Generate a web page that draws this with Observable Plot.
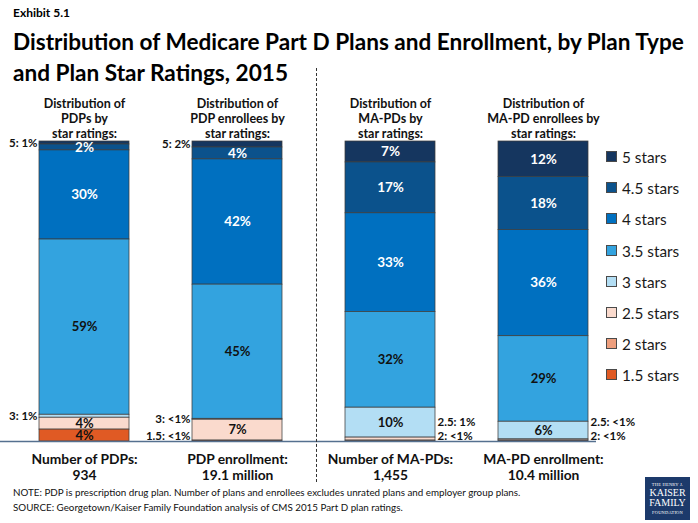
<!DOCTYPE html>
<html>
<head>
<meta charset="utf-8">
<script src="https://cdn.jsdelivr.net/npm/d3@7"></script>
<script src="https://cdn.jsdelivr.net/npm/@observablehq/plot@0.6"></script>
<style>
  html, body { margin: 0; padding: 0; background: #fff; }
  body { width: 698px; height: 523px; position: relative; overflow: hidden; font-family: Lato, "Open Sans", sans-serif; color: #000; }
  #chart { position: absolute; left: 0; top: 0; }
  .abs { position: absolute; }
  #exhibit { left: 13px; top: 5px; font-size: 12px; font-weight: bold; }
  #title { left: 13px; top: 26px; font-size: 22.6px; font-weight: bold; line-height: 31px; width: 690px; }
  #divider { left: 316px; top: 68px; height: 414px; border-left: 1px dashed #333; }
  #legend { left: 606px; top: 149px; }
  .lg { position: absolute; left: 0; white-space: nowrap; font-size: 15.3px; line-height: 16px; color: #1a1a1a; }
  .lg span.sw { display: inline-block; width: 9px; height: 9px; border: 1px solid #4a4a4a; margin-right: 5px; vertical-align: 1px; }
  #foot { left: 13px; top: 485px; font-size: 9.8px; line-height: 15px; color: #111; }
  #logo { left: 645px; top: 477px; width: 45px; height: 43px; background: #1c3a6b; color: #fff; font-family: "Liberation Serif", "DejaVu Serif", serif; text-align: center; }
</style>
</head>
<body>
<div id="chart"></div>
<div class="abs" id="exhibit">Exhibit 5.1</div>
<div class="abs" id="title">Distribution of Medicare Part D Plans and Enrollment, by Plan Type<br>and Plan Star Ratings, 2015</div>
<div class="abs" id="divider"></div>
<div class="abs" id="legend"></div>
<div class="abs" id="foot">NOTE: PDP is prescription drug plan. Number of plans and enrollees excludes unrated plans and employer group plans.<br>SOURCE: Georgetown/Kaiser Family Foundation analysis of CMS 2015 Part D plan ratings.</div>
<div class="abs" id="logo">
  <div style="font-size:4.5px;padding-top:5px;letter-spacing:0.2px;">THE HENRY J.</div>
  <div style="font-size:10px;line-height:10px;margin-top:1px;">KAISER</div>
  <div style="font-size:10px;line-height:10px;">FAMILY</div>
  <div style="font-size:4.5px;margin-top:2px;letter-spacing:0.2px;">FOUNDATION</div>
</div>
<script>
// ---- data ----
const plans = ["PDPs", "PDP enrollees", "MA-PDs", "MA-PD enrollees"];
const stars = ["5 stars", "4.5 stars", "4 stars", "3.5 stars", "3 stars", "2.5 stars", "2 stars", "1.5 stars"];
const colors = ["#15365f", "#0b528c", "#0070c0", "#33a3df", "#b3def4", "#fadacd", "#ee9f7e", "#e05a24"];

const pdpValues         = [1, 2, 30, 59, 1, 4, 0, 4];
const pdpEnrollValues   = [2, 4, 42, 45, 0.3, 7, 0, 0.3];
const maPdValues        = [7, 17, 33, 32, 10, 1, 0.3, 0];
const maPdEnrollValues  = [12, 18, 36, 29, 6, 0.4, 0.3, 0];

const pdpLabels         = ["5: 1%", "2%", "30%", "59%", "3: 1%", "4%", "", "4%"];
const pdpEnrollLabels   = ["5: 2%", "4%", "42%", "45%", "3: <1%", "7%", "", "1.5: <1%"];
const maPdLabels        = ["7%", "17%", "33%", "32%", "10%", "2.5: 1%", "2: <1%", ""];
const maPdEnrollLabels  = ["12%", "18%", "36%", "29%", "6%", "2.5: <1%", "2: <1%", ""];

const headers = ["Distribution of\nPDPs by\nstar ratings:", "Distribution of\nPDP enrollees by\nstar ratings:",
                 "Distribution of\nMA-PDs by\nstar ratings:", "Distribution of\nMA-PD enrollees by\nstar ratings:"];
const footers = ["Number of PDPs:\n934", "PDP enrollment:\n19.1 million", "Number of MA-PDs:\n1,455", "MA-PD enrollment:\n10.4 million"];

// ---- build table ----
const valueSets = [pdpValues, pdpEnrollValues, maPdValues, maPdEnrollValues];
const labelSets = [pdpLabels, pdpEnrollLabels, maPdLabels, maPdEnrollLabels];
const rows = plans.flatMap((p, i) => stars.map((s, j) => ({plan: p, star: s, value: valueSets[i][j], label: labelSets[i][j]})));
const stackOrder = stars.slice().reverse(); // bottom first
const darkStars = new Set(["5 stars", "4.5 stars", "4 stars"]);
const isInside = d => d.label && !d.label.includes(":");

// outside labels: stack midpoints (normalized), nudged apart from the bottom up
const outside = [];
plans.forEach((p, i) => {
  const total = d3.sum(valueSets[i]);
  let cum = 0, prev = -Infinity;
  stackOrder.forEach(s => {
    const j = stars.indexOf(s);
    const v = valueSets[i][j];
    const mid = (cum + v / 2) / total;
    cum += v;
    const lab = labelSets[i][j];
    if (lab && lab.includes(":")) {
      let y = Math.max(mid, 0.018, prev + 0.046);
      prev = y;
      outside.push({plan: p, y, label: lab, side: i < 2 ? "left" : "right"});
    }
  });
});

const stackOpts = {x: "plan", y: "value", z: "star", order: stackOrder, offset: "normalize"};

const chart = Plot.plot({
  width: 698,
  height: 523,
  marginTop: 141,
  marginBottom: 82,
  marginLeft: 0,
  marginRight: 102,
  style: {fontFamily: "Lato, 'Open Sans', sans-serif", background: "transparent"},
  x: {domain: plans, range: [38, 589], paddingInner: 0.414, paddingOuter: 0, axis: null},
  y: {domain: [0, 1], axis: null},
  color: {domain: stars, range: colors},
  marks: [
    Plot.barY(rows.filter(d => d.value > 0), Plot.stackY({...stackOpts, fill: "star", stroke: "#3c3c3c", strokeWidth: 0.75})),
    Plot.textY(rows, Plot.stackY({...stackOpts, text: d => isInside(d) && darkStars.has(d.star) ? d.label : null,
      fill: "white", fontSize: 13.5, fontWeight: "bold"})),
    Plot.textY(rows, Plot.stackY({...stackOpts, text: d => isInside(d) && !darkStars.has(d.star) ? d.label : null,
      fill: "#111", fontSize: 13, fontWeight: "bold"})),
    Plot.text(outside.filter(d => d.side === "left"), {x: "plan", y: "y", text: "label", textAnchor: "end", dx: -47, fontSize: 11.5, fontWeight: "bold", fill: "#111"}),
    Plot.text(outside.filter(d => d.side === "right"), {x: "plan", y: "y", text: "label", textAnchor: "start", dx: 47, fontSize: 11.5, fontWeight: "bold", fill: "#111"}),
    Plot.ruleY([0], {stroke: "#55708f", strokeWidth: 1.5}),
    Plot.text(plans, {x: d => d, text: (d, i) => headers[i], frameAnchor: "top", lineAnchor: "bottom", dy: -4, fontSize: 12.5, lineHeight: 1.2, fontWeight: "bold", fill: "#111"}),
    Plot.text(plans, {x: d => d, text: (d, i) => footers[i], frameAnchor: "bottom", lineAnchor: "top", dy: 11, fontSize: 13.8, lineHeight: 1.15, fontWeight: "bold", fill: "#111"})
  ]
});
document.getElementById("chart").appendChild(chart);

// ---- legend (HTML) ----
const legend = document.getElementById("legend");
stars.forEach((s, i) => {
  const row = document.createElement("div");
  row.className = "lg";
  row.style.top = (i * 31.2) + "px";
  row.innerHTML = `<span class="sw" style="background:${colors[i]}"></span>${s}`;
  legend.appendChild(row);
});
</script>
</body>
</html>
